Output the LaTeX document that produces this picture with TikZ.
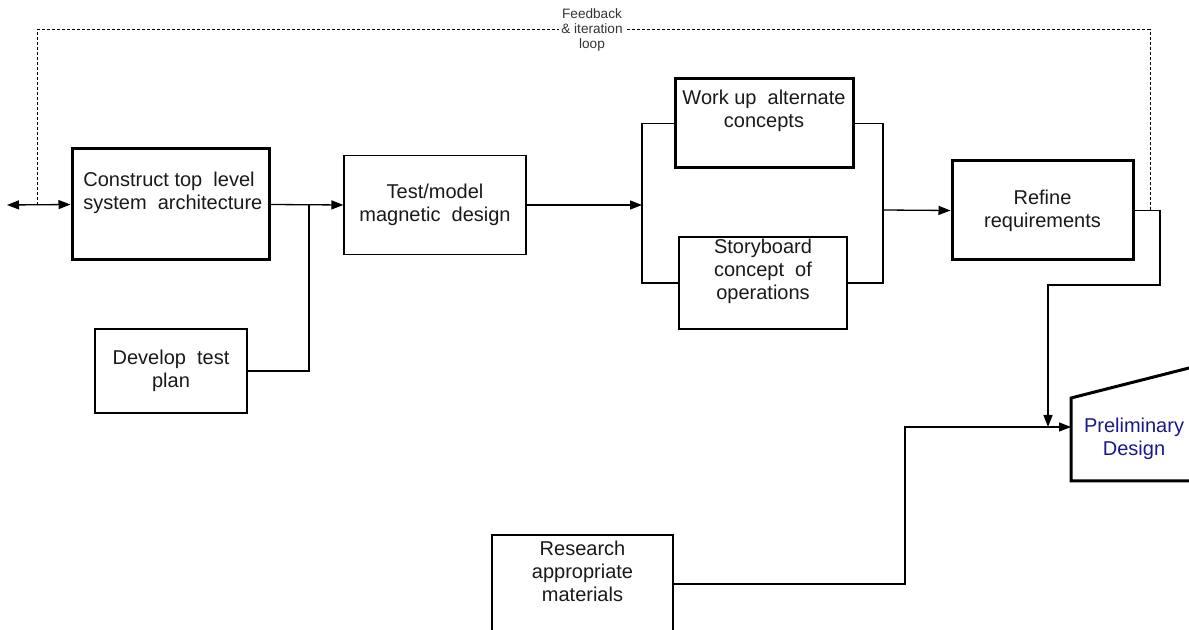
\documentclass[tikz,border=0pt]{standalone}
\usepackage{fontspec}
\setmainfont{Liberation Sans}
\usetikzlibrary{arrows.meta}
\definecolor{prelimblue}{RGB}{24,24,140}
\tikzset{
  >={Triangle[length=6pt,width=4.5pt]},
  box/.style={draw, line width=0.65pt, inner sep=0pt},
  heavybox/.style={draw, line width=1.5pt, inner sep=0pt},
  boxtext/.style={align=center, inner sep=0pt, text=black!90, font=\fontsize{10}{11.5}\selectfont},
  looptext/.style={align=center, inner sep=1pt, fill=white, text=black!80, font=\fontsize{6.8}{7.5}\selectfont},
  link/.style={line width=0.65pt},
  loopline/.style={line width=0.5pt, dash pattern=on 1.5pt off 1pt},
}

\begin{document}
\begin{tikzpicture}[x=0.5pt, y=-0.5pt]
  %%%%% START %%%%%
  \useasboundingbox (0,0) rectangle (1189,630);
  \clip (0,0) rectangle (1189,630);

  % boxes
  \node[heavybox, minimum width=98.5pt, minimum height=55.5pt] (arch) at (170.5,204.5) {};
  \node[boxtext, anchor=west, align=left] (archtext) at (83,193) {Construct top~~level\\system~~architecture};

  \node[box, minimum width=91pt, minimum height=49.5pt, boxtext] (test) at (435,205) {Test/model\\magnetic~~design};

  \node[box, minimum width=76pt, minimum height=42pt, boxtext] (devplan) at (171,371) {Develop~~test\\plan};

  \node[heavybox, minimum width=89pt, minimum height=44.5pt] (workup) at (764,123.5) {};
  \node[boxtext] (workuptext) at (764,111) {Work up~~alternate\\concepts};

  \node[box, minimum width=84pt, minimum height=46pt] (story) at (763,283) {};
  \node[boxtext] (storytext) at (763,271) {Storyboard\\concept~~of\\operations};

  \node[heavybox, minimum width=90.5pt, minimum height=49.5pt, boxtext] (refine) at (1042.5,210.5) {Refine\\requirements};

  \node[box, minimum width=90.5pt, minimum height=49pt] (research) at (582.5,584) {};
  \node[boxtext] (researchtext) at (582.5,571) {Research\\appropriate\\materials};

  % preliminary design (runs off the page)
  \draw[line width=1.5pt] (1215,361.4) -- (1071,398) -- (1071,481) -- (1215,481);
  \node[boxtext, text=prelimblue] (prelim) at (1134,439) {Preliminary\\Design};

  % junctions
  \coordinate (inlet) at (7,205);
  \coordinate (fbleft) at (37,205);
  \coordinate (fbright) at (1150,210);
  \coordinate (j1) at (309,205);
  \coordinate (j2) at (642,205);
  \coordinate (j3) at (883,210);
  \coordinate (r1) at (1160,285);
  \coordinate (r2) at (1048,427);
  \coordinate (r3) at (905,427);
  \coordinate (pdin) at (1071,427);

  % connectors
  \draw[link, <->] (inlet) -- (arch.west);
  \draw[link, ->] (arch.east) -- (test.west);
  \draw[link] (devplan.east) -| (j1);
  \draw[link, ->] (test.east) -- (j2);
  \draw[link] (workup.west) -| (j2);
  \draw[link] (story.west) -| (j2);
  \draw[link] (workup.east) -| (j3);
  \draw[link] (story.east) -| (j3);
  \draw[link, ->] (j3) -- (refine.west);
  \draw[link, ->] (refine.east) -| (r1) -| (r2);
  \draw[link, ->] (research.east) -| (r3) -- (pdin);

  % feedback loop
  \draw[loopline] (fbleft) -- ++(0,-175) -| (fbright);
  \node[looptext] (fbtext) at (592,30) {Feedback\\\& iteration\\loop};

  %%%%% END %%%%%
\end{tikzpicture}
\end{document}
